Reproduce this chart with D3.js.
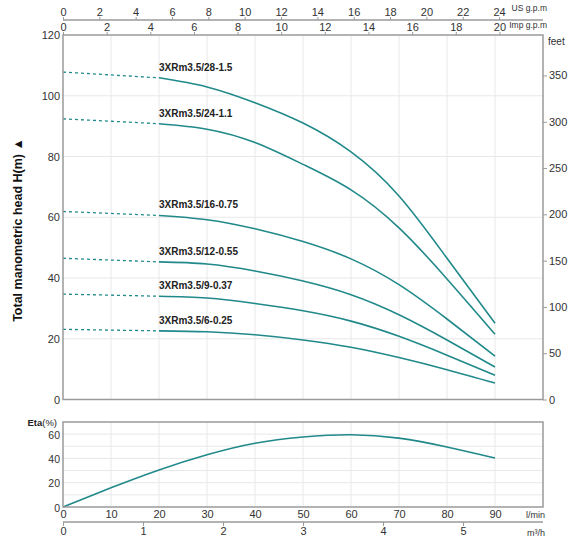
<!DOCTYPE html>
<html><head><meta charset="utf-8">
<script src="https://cdn.jsdelivr.net/npm/d3@7"></script>
<style>body{margin:0;background:#fff}svg{display:block;font-family:"Liberation Sans",Arial,sans-serif}</style>
</head><body><svg id="c" width="570" height="541"></svg>
<script>
// ---- data ----
const flowLmin = [20, 30, 40, 50, 60, 70, 80, 90];
const models = ["3XRm3.5/28-1.5","3XRm3.5/24-1.1","3XRm3.5/16-0.75","3XRm3.5/12-0.55","3XRm3.5/9-0.37","3XRm3.5/6-0.25"];
const headAtZero = [107.8, 92.4, 61.9, 46.5, 34.7, 23.1];
const head_28_15  = [105.9, 102.9, 97.7, 91.0, 81.5, 67.0, 46.5, 25.1];
const head_24_11  = [90.8, 89.0, 84.6, 77.4, 69.0, 56.5, 39.7, 21.5];
const head_16_075 = [60.6, 59.2, 56.2, 52.0, 46.3, 37.8, 26.5, 14.3];
const head_12_055 = [45.3, 44.6, 42.3, 39.0, 34.5, 27.9, 19.6, 10.7];
const head_9_037  = [34.0, 33.4, 31.6, 29.2, 25.8, 20.8, 14.6, 8.0];
const head_6_025  = [22.6, 22.3, 21.3, 19.6, 17.2, 13.8, 9.8, 5.4];
const heads = [head_28_15, head_24_11, head_16_075, head_12_055, head_9_037, head_6_025];
const etaFlow = [0, 10, 20, 30, 40, 50, 60, 70, 80, 90];
const etaValues = [0, 15.8, 30.5, 43.0, 52.5, 57.6, 59.5, 56.7, 49.4, 40.3];
const headTicks = [0, 20, 40, 60, 80, 100, 120];
const feetTicks = [0, 50, 100, 150, 200, 250, 300, 350];
const usTicks = [0, 2, 4, 6, 8, 10, 12, 14, 16, 18, 20, 22, 24];
const impTicks = [0, 2, 4, 6, 8, 10, 12, 14, 16, 18, 20];
const lminTicks = [0, 10, 20, 30, 40, 50, 60, 70, 80, 90];
const m3hTicks = [0, 1, 2, 3, 4, 5];
const etaTicks = [0, 20, 40, 60];

// ---- layout ----
const svg = d3.select("#c");
const L = 63, R = 543;
const mainTop = 35, mainBot = 399.5;
const etaTop = 422, etaBot = 507;
const teal = "#21898a", border = "#9a9a9a", grid = "#e8e8e8", txt = "#333";

const x = d3.scaleLinear().domain([0, 100]).range([L, R]);
const y = d3.scaleLinear().domain([0, 120]).range([mainBot, mainTop]);
const yFeet = d3.scaleLinear().domain([0, 120 * 3.28084]).range([mainBot, mainTop]);
const xUS = d3.scaleLinear().domain([0, 100 * 0.264172]).range([L, R]);
const xImp = d3.scaleLinear().domain([0, 100 * 0.219969]).range([L, R]);
const xM3h = d3.scaleLinear().domain([0, 6]).range([L, R]);
const ye = d3.scaleLinear().domain([0, 70]).range([etaBot, etaTop]);

// grids
const gMain = svg.append("g");
gMain.selectAll(".vg").data(d3.range(10, 100, 10)).join("line")
  .attr("x1", d => x(d)).attr("x2", d => x(d)).attr("y1", mainTop).attr("y2", mainBot)
  .attr("stroke", grid).attr("stroke-width", 1);
gMain.selectAll(".hg").data(d3.range(20, 120, 20)).join("line")
  .attr("y1", d => y(d)).attr("y2", d => y(d)).attr("x1", L).attr("x2", R)
  .attr("stroke", grid).attr("stroke-width", 1);
gMain.selectAll(".evg").data(d3.range(10, 100, 10)).join("line")
  .attr("x1", d => x(d)).attr("x2", d => x(d)).attr("y1", etaTop).attr("y2", etaBot)
  .attr("stroke", grid).attr("stroke-width", 1);
gMain.selectAll(".ehg").data(d3.range(10, 70, 10)).join("line")
  .attr("y1", d => ye(d)).attr("y2", d => ye(d)).attr("x1", L).attr("x2", R)
  .attr("stroke", grid).attr("stroke-width", 1);

// curves
const line = d3.line().x(d => x(d[0])).y(d => y(d[1])).curve(d3.curveNatural);
heads.forEach((h, i) => {
  const pts = flowLmin.map((f, j) => [f, h[j]]);
  svg.append("path").attr("d", line(pts)).attr("fill", "none")
    .attr("stroke", teal).attr("stroke-width", 1.6);
  svg.append("path").attr("d", d3.line().x(d => x(d[0])).y(d => y(d[1]))([[0, headAtZero[i]], [20, h[0]]]))
    .attr("fill", "none").attr("stroke", teal).attr("stroke-width", 1.3).attr("stroke-dasharray", "3,3");
  svg.append("text").attr("x", x(20)).attr("y", y(h[0]) - 7)
    .attr("font-size", 10).attr("font-weight", "bold").attr("fill", "#222").text(models[i]);
});

// eta curve
const eline = d3.line().x(d => x(d[0])).y(d => ye(d[1])).curve(d3.curveNatural);
svg.append("path").attr("d", eline(etaFlow.map((f, j) => [f, etaValues[j]])))
  .attr("fill", "none").attr("stroke", teal).attr("stroke-width", 1.6);

// borders
svg.append("rect").attr("x", L).attr("y", mainTop).attr("width", R - L).attr("height", mainBot - mainTop)
  .attr("fill", "none").attr("stroke", border).attr("stroke-width", 1.5);
svg.append("rect").attr("x", L).attr("y", etaTop).attr("width", R - L).attr("height", etaBot - etaTop)
  .attr("fill", "none").attr("stroke", border).attr("stroke-width", 1.5);

function styleAxis(g, fs) {
  g.selectAll("path.domain").attr("stroke", border).attr("stroke-width", 1.5);
  g.selectAll(".tick line").attr("stroke", border);
  g.selectAll(".tick text").attr("fill", txt).attr("font-size", fs).attr("font-family", '"Liberation Sans",Arial,sans-serif');
}

// left axis
const gl = svg.append("g").attr("transform", `translate(${L},0)`)
  .call(d3.axisLeft(y).tickValues(headTicks).tickSize(0).tickPadding(3));
styleAxis(gl, 11); gl.select("path.domain").remove();
// right feet axis
const gr = svg.append("g").attr("transform", `translate(${R},0)`)
  .call(d3.axisRight(yFeet).tickValues(feetTicks).tickSize(4).tickPadding(2));
styleAxis(gr, 11); gr.select("path.domain").remove();
svg.append("text").attr("x", 548).attr("y", 45).attr("font-size", 10).attr("fill", txt).text("feet");

// top US axis
const gus = svg.append("g").attr("transform", `translate(0,20)`)
  .call(d3.axisTop(xUS).tickValues(usTicks).tickSize(3).tickPadding(1).tickSizeOuter(0));
styleAxis(gus, 11);
gus.select("path.domain").attr("d", `M${L},0H${R}`);
svg.append("text").attr("x", 547).attr("y", 11).attr("text-anchor", "end").attr("font-size", 8.5).attr("fill", txt).text("US g.p.m");
// top Imp axis
const gimp = svg.append("g").attr("transform", `translate(0,${mainTop})`)
  .call(d3.axisTop(xImp).tickValues(impTicks).tickSize(3).tickPadding(1).tickSizeOuter(0));
styleAxis(gimp, 11); gimp.select("path.domain").remove();
svg.append("text").attr("x", 547).attr("y", 28).attr("text-anchor", "end").attr("font-size", 8.5).attr("fill", txt).text("Imp g.p.m");

// eta y axis
const gel = svg.append("g").attr("transform", `translate(${L},0)`)
  .call(d3.axisLeft(ye).tickValues(etaTicks).tickSize(0).tickPadding(3));
styleAxis(gel, 10.5); gel.select("path.domain").remove();
gel.selectAll(".tick text").attr("dy", "0.4em");
const etaLbl = svg.append("text").attr("x", 57).attr("y", 426).attr("text-anchor", "end").attr("font-size", 9.5).attr("fill", "#222");
etaLbl.append("tspan").attr("font-weight", "bold").text("Eta");
etaLbl.append("tspan").text("(%)");

// eta x axis l/min
const gex = svg.append("g").attr("transform", `translate(0,${etaBot})`)
  .call(d3.axisBottom(x).tickValues(lminTicks).tickSize(0).tickPadding(3));
styleAxis(gex, 11); gex.select("path.domain").remove();
svg.append("text").attr("x", 545).attr("y", 518).attr("text-anchor", "end").attr("font-size", 9).attr("fill", txt).text("l/min");
// m3/h axis
const gm = svg.append("g").attr("transform", `translate(0,522)`)
  .call(d3.axisBottom(xM3h).tickValues(m3hTicks).tickFormat(d3.format("d")).tickSize(4).tickPadding(1).tickSizeOuter(0));
styleAxis(gm, 11);
gm.select("path.domain").attr("d", `M${L},0H${R}`);
svg.append("text").attr("x", 545).attr("y", 536).attr("text-anchor", "end").attr("font-size", 9).attr("fill", txt).text("m³/h");

// y title
svg.append("text").attr("transform", "translate(22,230) rotate(-90)").attr("text-anchor", "middle")
  .attr("font-size", 12.5).attr("font-weight", "bold").attr("fill", "#111").text("Total manometric head H(m)  ▲");
</script></body></html>
